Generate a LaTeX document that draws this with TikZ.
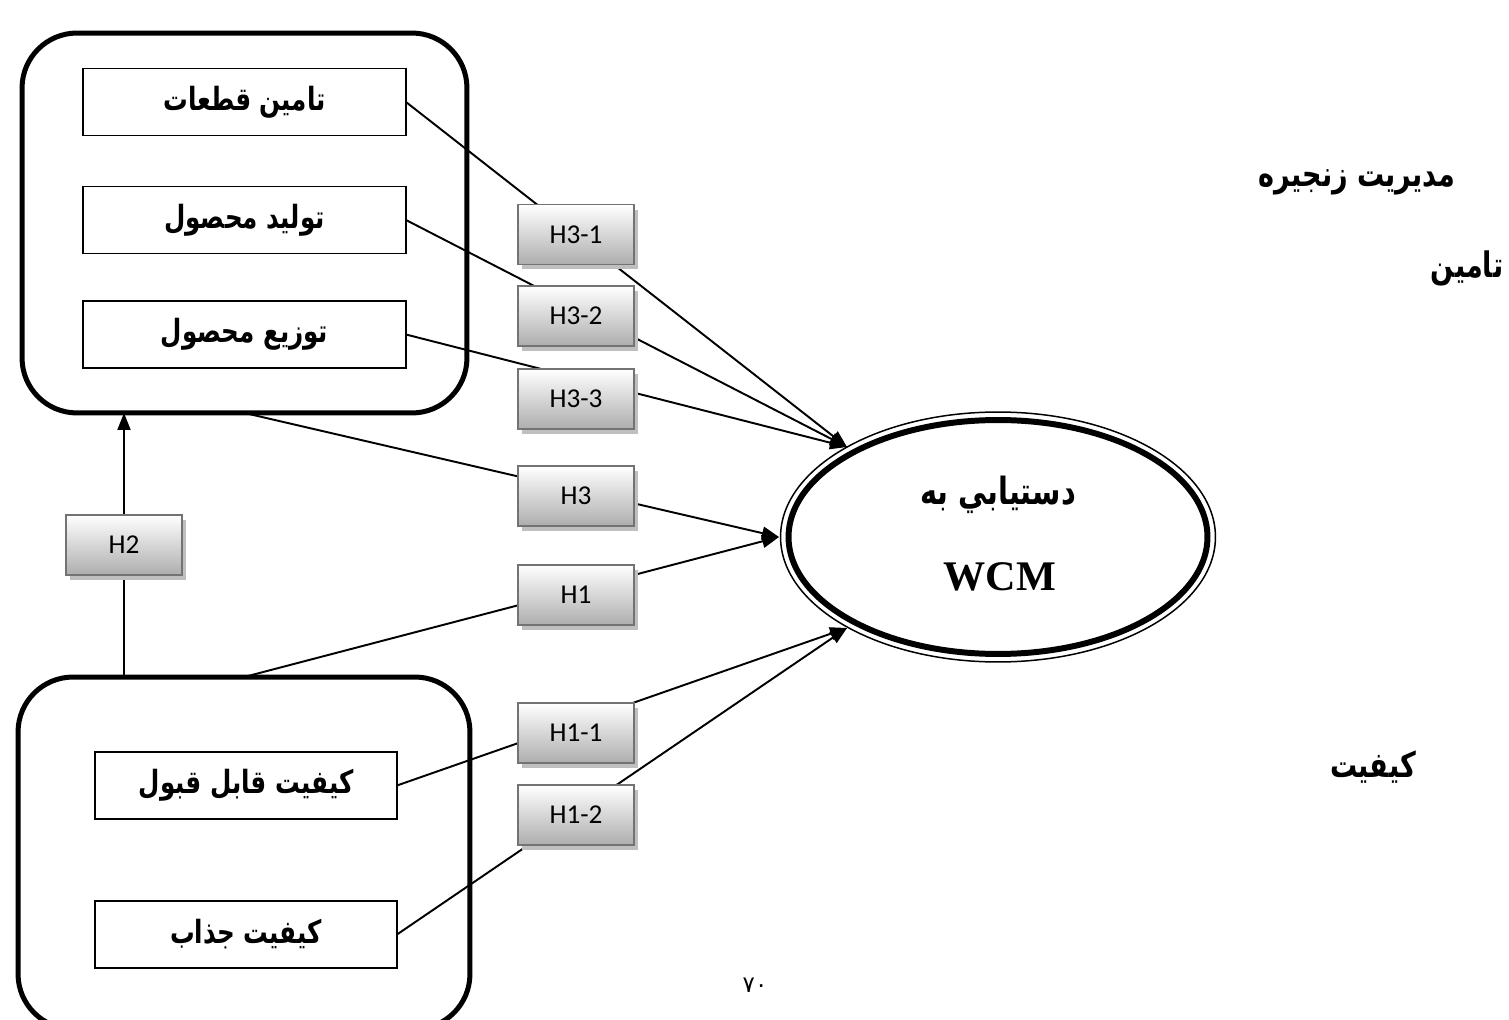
\documentclass[tikz,border=0pt]{standalone}
\usepackage{fontspec}
\usepackage{graphicx}
\usetikzlibrary{arrows.meta,shapes.geometric,shadows}
\TeXXeTstate=1
\newfontfamily\arabicfont[Script=Arabic]{DejaVu Sans}
\newfontfamily\hypfont{Carlito}
\newfontfamily\latinserif{Liberation Serif}
% right-to-left text, a little taller than DejaVu's squat Arabic
\newcommand\rtltext[1]{\scalebox{1}[1.3]{\beginR #1\endR}}
\begin{document}
\begin{tikzpicture}[x=0.02cm,y=-0.02cm,
  group/.style={draw, line width=2.85pt, rounded corners=1.1cm, outer sep=0pt},
  factor/.style={draw, line width=1.1pt, minimum height=1.34cm, inner sep=0pt, outer sep=0pt,
    font=\arabicfont\bfseries\fontsize{14}{17}\selectfont},
  hyp/.style={draw=black!55, line width=1.1pt, top color=white, bottom color=black!32,
    minimum width=2.32cm, minimum height=1.2cm, inner sep=0pt,
    font=\hypfont\fontsize{15.5}{18}\selectfont,
    drop shadow={shadow xshift=0.08cm, shadow yshift=-0.1cm, fill=black!25, opacity=1}},
  caption/.style={font=\arabicfont\bfseries\fontsize{15.4}{18}\selectfont, inner sep=0pt},
  link/.style={line width=1.1pt},
  arr/.style={link, -{Triangle[length=0.34cm, width=0.26cm]}}
]
% page
\useasboundingbox (0,0) rectangle (1509,1020);
\fill[white] (0,0) rectangle (1509,1020);

% supply chain group and its three factors
\node[group, minimum width=8.9cm, minimum height=7.6cm] (top) at (244.5,223) {};
\node[factor, minimum width=6.46cm] (f1) at (244.5,102) {\rtltext{تامین قطعات}};
\node[factor, minimum width=6.46cm] (f2) at (244.5,220) {\rtltext{تولید محصول}};
\node[factor, minimum width=6.46cm] (f3) at (244.5,334.5) {\rtltext{توزیع محصول}};

% quality group and its two factors
\node[group, minimum width=9.04cm, minimum height=7.04cm] (bot) at (244,853) {};
\node[factor, minimum width=6.04cm] (f4) at (246,785.5) {\rtltext{کیفیت قابل قبول}};
\node[factor, minimum width=6.04cm] (f5) at (246,934.5) {\rtltext{کیفیت جذاب}};

% target construct
\node[ellipse, draw, line width=3.4pt, minimum width=8.38cm, minimum height=4.68cm,
      inner sep=0pt] (wcm) at (998,537) {};
\draw[line width=0.85pt] (wcm.center) ellipse [x radius=4.35cm, y radius=2.5cm];
\node[caption, font=\arabicfont\bfseries\fontsize{16.4}{20}\selectfont] (wcmfa) at (998,495) {\rtltext{دستيابي به}};
\node[font=\latinserif\bfseries\fontsize{24}{28}\selectfont, inner sep=0pt] (wcmen) at (1000,577) {WCM};

% side captions
\node[caption] (cap1) at (1357,182) {\rtltext{مدیریت زنجیره}};
\node[caption] (cap2) at (1467,268) {\rtltext{تامین}};
\node[caption] (cap3) at (1373,767) {\rtltext{کیفیت}};
\node[font=\arabicfont\fontsize{13}{15}\selectfont, inner sep=0pt] (pg) at (755,985) {\beginR ۷۰\endR};

% arrow targets on the ellipse
\coordinate (tipU) at (847,447);
\coordinate (tipL) at (779,537);
\coordinate (tipD) at (847,628);
\coordinate (h2base) at (124,677);

% paths
\draw[arr] (f1.east) -- (tipU);
\draw[arr] (f2.east) -- (tipU);
\draw[arr] (f3.east) -- (tipU);
\draw[arr] (top.south) -- (tipL);
\draw[arr] (bot.north) -- (tipL);
\draw[arr] (f4.east) -- (tipD);
\draw[arr] (f5.east) -- (tipD);
\draw[arr] (h2base) -- (h2base |- top.south);

% hypothesis labels
\node[hyp] (h31) at (576,234.5) {H3-1};
\node[hyp] (h32) at (576,316) {H3-2};
\node[hyp] (h33) at (576,399) {H3-3};
\node[hyp] (h3) at (576,496) {H3};
\node[hyp] (h1) at (576,595) {H1};
\node[hyp] (h11) at (576,733) {H1-1};
\node[hyp] (h12) at (576,815) {H1-2};
\node[hyp] (h2) at (124,545) {H2};
\end{tikzpicture}
\end{document}
